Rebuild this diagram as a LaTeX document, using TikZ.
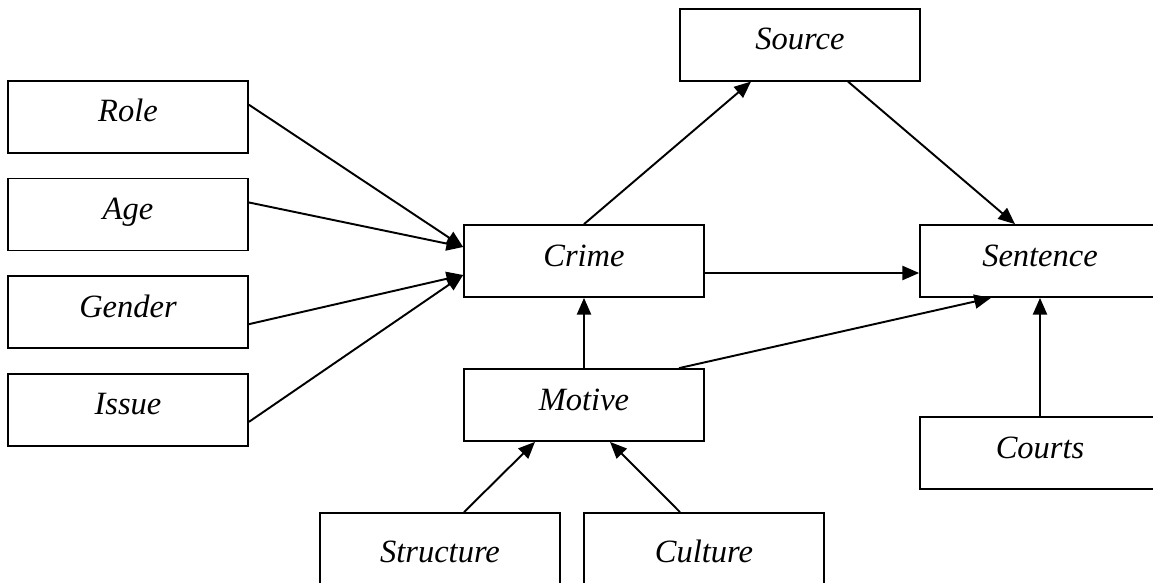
\documentclass[tikz,border=0pt]{standalone}
\usepackage{fontspec}
\setmainfont{Liberation Serif}
\usetikzlibrary{arrows.meta, positioning, calc}

\begin{document}
\begin{tikzpicture}[
    x=0.02cm, y=-0.02cm,
    % Define styles for the nodes
    box/.style={rectangle, draw=black, line width=1pt, minimum width=4.8cm, minimum height=1.44cm, inner sep=0pt, align=center, font=\itshape\fontsize{18.5}{22}\selectfont, text height=0.5cm, text depth=0.3cm},
    tall_box/.style={box, minimum height=1.76cm},
    % Styles for arrows
    arrow/.style={-{Triangle[length=9.5pt, width=8pt]}, line width=1.1pt}
]
    % page frame (boxes on the right and bottom run past it)
    \clip (0,0) rectangle (1153,582);

    % =========================================================================
    % LEFT COLUMN - OFFENDER FACTORS
    % =========================================================================
    \node (role) [box] at (128,116.7) {Role};
    \node (age) [box, below=0.48cm of role] {Age};
    \node (gender) [box, below=0.48cm of age] {Gender};
    \node (issue) [box, below=0.48cm of gender] {Issue};

    % =========================================================================
    % MIDDLE - CRIME, SOURCE, MOTIVE
    % =========================================================================
    \node (crime) [box] at (584,261) {Crime};
    \node (source) [box] at (800,44.7) {Source};
    \node (motive) [box] at (584,405) {Motive};

    \node (structure) [tall_box] at (440,557) {Structure};
    \node (culture) [tall_box] at (704,557) {Culture};

    % =========================================================================
    % RIGHT - SENTENCE & COURTS
    % =========================================================================
    \node (sentence) [box] at (1040,261) {Sentence};
    \node (courts) [box] at (1040,453) {Courts};

    % =========================================================================
    % CONNECTIONS
    % =========================================================================
    \draw [arrow] ($(role.east)+(0,-12)$) -- ($(crime.west)+(0,-14)$);
    \draw [arrow] ($(age.east)+(0,-12)$) -- ($(crime.west)+(0,-14)$);
    \draw [arrow] ($(gender.east)+(0,12)$) -- ($(crime.west)+(0,14)$);
    \draw [arrow] ($(issue.east)+(0,12)$) -- ($(crime.west)+(0,14)$);

    \draw [arrow] (crime.north) -- ($(source.south)+(-49,0)$);
    \draw [arrow] ($(source.south)+(48,0)$) -- ($(sentence.north)+(-25,0)$);
    \draw [arrow] ($(crime.east)+(0,12)$) -- ($(sentence.west)+(0,12)$);

    \draw [arrow] (motive.north) -- (crime.south);
    \draw [arrow] ($(motive.north)+(95,0)$) -- ($(sentence.south)+(-49,0)$);
    \draw [arrow] (courts.north) -- (sentence.south);

    \draw [arrow] ($(structure.north)+(24,0)$) -- ($(motive.south)+(-49,0)$);
    \draw [arrow] ($(culture.north)+(-24,0)$) -- ($(motive.south)+(26,0)$);

\end{tikzpicture}
\end{document}
